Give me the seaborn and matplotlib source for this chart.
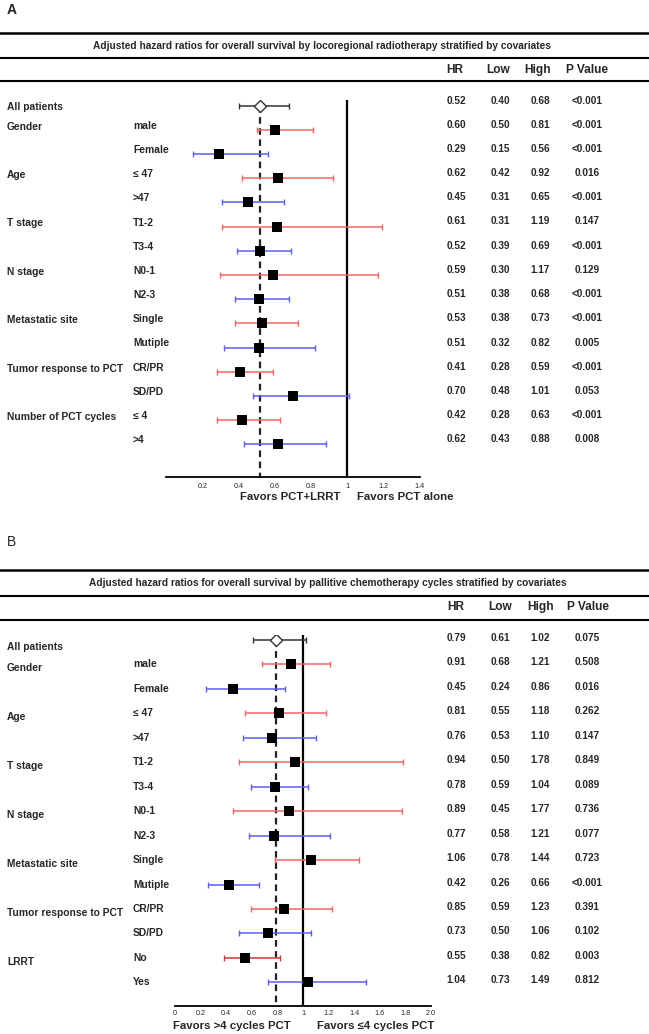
import numpy as np
import pandas as pd
import matplotlib
matplotlib.use("Agg")
import matplotlib.pyplot as plt
import matplotlib.transforms as mtransforms
from matplotlib.lines import Line2D
import seaborn as sns

# ---- panel A data ----
a_title = "Adjusted hazard ratios for overall survival by locoregional radiotherapy stratified by covariates"
a_groups = ["All patients", "Gender", "", "Age", "", "T stage", "", "N stage", "",
            "Metastatic site", "", "Tumor response to PCT", "", "Number of PCT cycles", ""]
a_sub = ["", "male", "Female", "≤ 47", ">47", "T1-2", "T3-4", "N0-1", "N2-3",
         "Single", "Mutiple", "CR/PR", "SD/PD", "≤ 4", ">4"]
a_hr = [0.52, 0.60, 0.29, 0.62, 0.45, 0.61, 0.52, 0.59, 0.51, 0.53, 0.51, 0.41, 0.70, 0.42, 0.62]
a_low = [0.40, 0.50, 0.15, 0.42, 0.31, 0.31, 0.39, 0.30, 0.38, 0.38, 0.32, 0.28, 0.48, 0.28, 0.43]
a_high = [0.68, 0.81, 0.56, 0.92, 0.65, 1.19, 0.69, 1.17, 0.68, 0.73, 0.82, 0.59, 1.01, 0.63, 0.88]
a_p = ["<0.001", "<0.001", "<0.001", "0.016", "<0.001", "0.147", "<0.001", "0.129",
       "<0.001", "<0.001", "0.005", "<0.001", "0.053", "<0.001", "0.008"]
a_ticks = [0, 0.2, 0.4, 0.6, 0.8, 1.0, 1.2, 1.4]
a_ticklabels = ["", "0.2", "0.4", "0.6", "0.8", "1", "1.2", "1.4"]
a_favors = ["Favors PCT+LRRT", "Favors PCT alone"]

# ---- panel B data ----
b_title = "Adjusted hazard ratios for overall survival by pallitive chemotherapy cycles stratified by covariates"
b_groups = ["All patients", "Gender", "", "Age", "", "T stage", "", "N stage", "",
            "Metastatic site", "", "Tumor response to PCT", "", "LRRT", ""]
b_sub = ["", "male", "Female", "≤ 47", ">47", "T1-2", "T3-4", "N0-1", "N2-3",
         "Single", "Mutiple", "CR/PR", "SD/PD", "No", "Yes"]
b_hr = [0.79, 0.91, 0.45, 0.81, 0.76, 0.94, 0.78, 0.89, 0.77, 1.06, 0.42, 0.85, 0.73, 0.55, 1.04]
b_low = [0.61, 0.68, 0.24, 0.55, 0.53, 0.50, 0.59, 0.45, 0.58, 0.78, 0.26, 0.59, 0.50, 0.38, 0.73]
b_high = [1.02, 1.21, 0.86, 1.18, 1.10, 1.78, 1.04, 1.77, 1.21, 1.44, 0.66, 1.23, 1.06, 0.82, 1.49]
b_p = ["0.075", "0.508", "0.016", "0.262", "0.147", "0.849", "0.089", "0.736",
       "0.077", "0.723", "<0.001", "0.391", "0.102", "0.003", "0.812"]
b_ticks = [0, 0.2, 0.4, 0.6, 0.8, 1.0, 1.2, 1.4, 1.6, 1.8, 2.0]
b_ticklabels = ["0", "0.2", "0.4", "0.6", "0.8", "1", "1.2", "1.4", "1.6", "1.8", "2.0"]
b_favors = ["Favors >4 cycles PCT", "Favors ≤4 cycles PCT"]

headers = ["HR", "Low", "High", "P Value"]

RED = "#f26464"
BLUE = "#5e5ef2"
DARKRED = "#c93a3a"
GREY = "#333333"

W, H = 649, 1034
sns.set_theme(style="white")
plt.rcParams["font.family"] = ["Liberation Sans", "DejaVu Sans"]

fig = plt.figure(figsize=(W / 100, H / 100), dpi=100)


def fx(px):
    return px / W


def fy(py):
    return 1 - py / H


def hline(py, lw):
    fig.add_artist(Line2D([0, 1], [fy(py), fy(py)], color="black", lw=lw,
                          transform=fig.transFigure))


def forest(box, xlim, hr, low, high, colors, groups, sub, pvals, ticks, ticklabels,
           row0, step, dy_group, dy_sub, dy_val, tick_pad):
    left, right, top, bottom = box
    ax = fig.add_axes([fx(left), fy(bottom), fx(right - left), (bottom - top) / H])
    n = len(hr)
    ybot = (bottom - row0) / step
    ytop = (top - row0) / step
    rows = np.arange(n)

    df = pd.DataFrame({"row": rows, "hr": hr, "low": low, "high": high})

    for i, r in df.iterrows():
        ax.errorbar(r["hr"], r["row"], xerr=[[r["hr"] - r["low"]], [r["high"] - r["hr"]]],
                    fmt="none", ecolor=colors[i], elinewidth=1.1, capsize=2.2,
                    capthick=1.0, zorder=2)

    ax.axvline(1, color="black", lw=1.6, zorder=1)
    ax.vlines(hr[0], 0, ybot, colors="#222222", linestyles=(0, (3, 2)), lw=1.6, zorder=1)

    sns.scatterplot(data=df.iloc[1:], x="hr", y="row", marker="s", color="black",
                    s=52, linewidth=0, ax=ax, legend=False, zorder=3)
    sns.scatterplot(data=df.iloc[:1], x="hr", y="row", marker="D", facecolor="white",
                    edgecolor=GREY, s=38, linewidth=1.0, ax=ax, legend=False, zorder=3)

    ax.set_xlim(*xlim)
    ax.set_ylim(ybot, ytop)
    ax.set_xlabel("")
    ax.set_ylabel("")
    ax.set_yticks([])
    ax.set_xticks(ticks)
    ax.set_xticklabels(ticklabels)
    ax.tick_params(axis="x", length=0, pad=tick_pad, labelsize=5.2)
    for s in ["top", "left", "right"]:
        ax.spines[s].set_visible(False)
    ax.spines["bottom"].set_color("black")
    ax.spines["bottom"].set_linewidth(1.3)
    ax.patch.set_alpha(0)

    tr = mtransforms.blended_transform_factory(fig.transFigure, ax.transData)
    for i in range(n):
        if groups[i]:
            d = dy_group[0] if i == 0 else dy_group[1]
            fig.text(fx(7), i + d / step, groups[i], transform=tr, fontsize=7.4,
                     fontweight="bold", va="center", ha="left")
        if sub[i]:
            fig.text(fx(133), i + dy_sub / step, sub[i], transform=tr, fontsize=7.4,
                     fontweight="bold", va="center", ha="left")
        vals = [f"{hr[i]:.2f}", f"{low[i]:.2f}", f"{high[i]:.2f}", pvals[i]]
        for cx, v in zip([456, 500, 540, 587], vals):
            fig.text(fx(cx), i + dy_val / step, v, transform=tr, fontsize=7.2,
                     fontweight="bold", va="center", ha="center")
    return ax


a_colors = [GREY] + [RED if i % 2 == 1 else BLUE for i in range(1, len(a_hr))]
b_colors = [GREY] + [RED if i % 2 == 1 else BLUE for i in range(1, len(b_hr))]
b_colors[13] = DARKRED

# ---- panel A ----
fig.text(fx(7), fy(10), "A", fontsize=10, fontweight="bold", va="center", ha="left")
hline(33, 1.8)
fig.text(fx(322), fy(46), a_title, fontsize=7.3, fontweight="bold", ha="center", va="center")
hline(58, 1.5)
for cx, h in zip([455, 498, 538, 587], headers):
    fig.text(fx(cx), fy(70), h, fontsize=8.6, fontweight="bold", ha="center", va="center")
hline(81, 1.5)
forest((166, 420, 100, 477), (0, 1.4), a_hr, a_low, a_high, a_colors, a_groups, a_sub,
       a_p, a_ticks, a_ticklabels, 105.5, 24.2, (1, -3), -4, -5, 4.5)
fig.text(fx(340), fy(497), a_favors[0], fontsize=8.2, fontweight="bold", ha="right", va="center")
fig.text(fx(357), fy(497), a_favors[1], fontsize=8.2, fontweight="bold", ha="left", va="center")

# ---- panel B ----
fig.text(fx(7), fy(542), "B", fontsize=10, va="center", ha="left")
hline(570, 1.8)
fig.text(fx(328), fy(583), b_title, fontsize=7.3, fontweight="bold", ha="center", va="center")
hline(596, 1.5)
for cx, h in zip([456, 500, 541, 588], headers):
    fig.text(fx(cx), fy(607), h, fontsize=8.6, fontweight="bold", ha="center", va="center")
hline(620, 1.5)
forest((175, 431, 635, 1006), (0, 2.0), b_hr, b_low, b_high, b_colors, b_groups, b_sub,
       b_p, b_ticks, b_ticklabels, 640, 24.45, (7, 4), 0, -2, 3)
fig.text(fx(173), fy(1026), b_favors[0], fontsize=8.2, fontweight="bold", ha="left", va="center")
fig.text(fx(317), fy(1026), b_favors[1], fontsize=8.2, fontweight="bold", ha="left", va="center")

fig.savefig("out.png", dpi=100)
